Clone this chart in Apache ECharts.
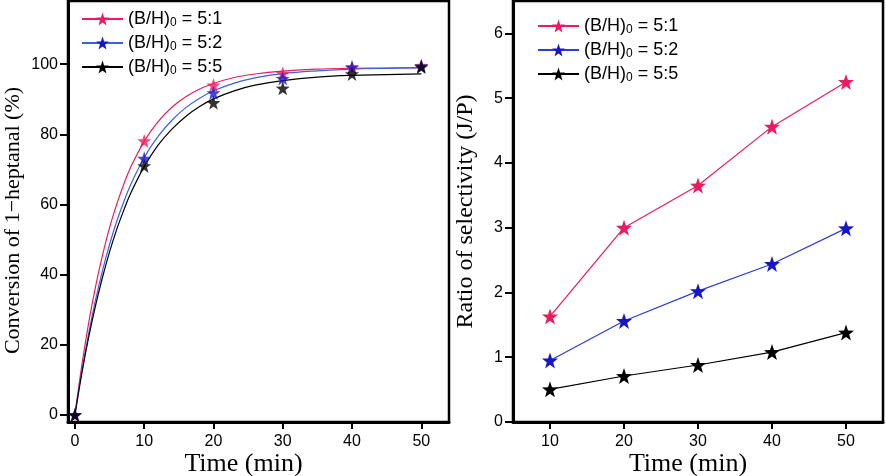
<!DOCTYPE html>
<html><head><meta charset="utf-8">
<script src="https://cdn.jsdelivr.net/npm/echarts@6/dist/echarts.min.js"></script>
<style>html,body{margin:0;padding:0;background:#fff}#c{width:886px;height:476px}</style>
</head><body><div id="c"></div>
<script>
// ---- data ----
const ratios = ['5:1', '5:2', '5:5'];
// left panel: measured conversion (%)
const convTime = [0, 10, 20, 30, 40, 50];
const conv51 = [0, 78.1, 94.0, 97.3, 99.0, 99.6];
const conv52 = [0, 73.1, 91.8, 95.9, 99.2, 99.4];
const conv55 = [0, 71.0, 89.0, 93.1, 97.2, 99.2];
// left panel: fitted curves
const fitTime = [0, 1, 2, 3, 4, 5, 6, 7, 8, 10, 12, 14, 16, 18, 20, 23, 26, 30, 35, 40, 45, 50];
const fit51 = [0, 14.2, 26.4, 36.8, 45.7, 53.4, 59.9, 65.5, 70.4, 78.0, 83.6, 87.7, 90.7, 92.9, 94.5, 96.2, 97.2, 98.0, 98.6, 98.8, 98.9, 99.0];
const fit52 = [0, 12.5, 23.4, 33.0, 41.3, 48.6, 55.0, 60.5, 65.4, 73.4, 79.4, 84.0, 87.6, 90.3, 92.4, 94.6, 96.1, 97.3, 98.1, 98.6, 98.8, 98.9];
const fit55 = [0, 11.9, 22.3, 31.4, 39.4, 46.5, 52.7, 58.1, 63.0, 70.8, 76.9, 81.5, 85.1, 87.9, 90.1, 92.4, 94.0, 95.3, 96.3, 96.8, 97.0, 97.2];
// right panel: ratio of selectivity (J/P)
const selTime = [10, 20, 30, 40, 50];
const sel51 = [1.63, 3.0, 3.65, 4.56, 5.25];
const sel52 = [0.95, 1.56, 2.02, 2.44, 2.99];
const sel55 = [0.505, 0.71, 0.88, 1.08, 1.38];
// tick labels
const convTicks = [0, 20, 40, 60, 80, 100];
const timeTicksL = [0, 10, 20, 30, 40, 50];
const selTicks = [0, 1, 2, 3, 4, 5, 6];
const timeTicksR = [10, 20, 30, 40, 50];

// ---- styles ----
const PINK = '#ec1b5f', BLUE = '#1616c6', BLUE_L = '#3a62e0', BLUE_R = '#2b3ed8', BLACK = '#000';
const STAR = 'path://M50,2 L61.76,35.82 L97.55,36.55 L69.02,58.18 L79.39,92.45 L50,72 L20.61,92.45 L30.98,58.18 L2.45,36.55 L38.24,35.82 Z';
const SANS = 'Liberation Sans', SERIF = 'Liberation Serif';

const pair = (xs, ys) => xs.map((x, i) => [x, ys[i]]);

function legendCfg(prefix, left, top, padL) {
  return {
    orient: 'vertical', left: left, top: top,
    itemWidth: 41, itemHeight: 16, itemGap: 5,
    data: ratios.map(r => prefix + r),
    formatter: name => '{p|(B/H)}{s|0}{a| = ' + name.slice(prefix.length) + '}',
    textStyle: {
      color: '#000', fontFamily: SANS,
      rich: {
        p: { fontSize: 18, lineHeight: 20, fontFamily: SANS, color: '#000', padding: [0, 0, 0, padL] },
        a: { fontSize: 18, lineHeight: 20, fontFamily: SANS, color: '#000' },
        s: { fontSize: 12, lineHeight: 8, fontFamily: SANS, color: '#000', verticalAlign: 'bottom' }
      }
    }
  };
}

function axisCommon() {
  return {
    axisLine: { show: true, onZero: false, lineStyle: { color: '#000', width: 3 } },
    splitLine: { show: false },
    nameLocation: 'middle'
  };
}

const option = {
  animation: false,
  backgroundColor: '#fff',
  grid: [
    { left: 68, right: 437, top: 1, bottom: 54, show: true, borderColor: '#000', borderWidth: 2.5, outerBoundsMode: 'none', containLabel: false },
    { left: 513, right: 3, top: 1, bottom: 54, show: true, borderColor: '#000', borderWidth: 2.5, outerBoundsMode: 'none', containLabel: false }
  ],
  legend: [legendCfg('L ', 76, 5, 0), legendCfg('R ', 532, 12, 0)],
  xAxis: [
    Object.assign(axisCommon(), {
      type: 'value', gridIndex: 0, min: -1, max: 54,
      axisTick: { show: true, length: 7, customValues: timeTicksL, lineStyle: { color: '#000', width: 2 } },
      axisLabel: { customValues: timeTicksL, margin: 12, fontSize: 16, fontFamily: SANS, color: '#000' },
      name: 'Time (min)', nameGap: 29, nameMoveOverlap: false,
      nameTextStyle: { fontFamily: SERIF, fontSize: 26, color: '#000', padding: [0, 30, 0, 0] }
    }),
    Object.assign(axisCommon(), {
      type: 'value', gridIndex: 1, min: 5, max: 55,
      axisTick: { show: true, length: 7, customValues: timeTicksR, lineStyle: { color: '#000', width: 2 } },
      axisLabel: { customValues: timeTicksR, margin: 12, fontSize: 16, fontFamily: SANS, color: '#000' },
      name: 'Time (min)', nameGap: 29, nameMoveOverlap: false,
      nameTextStyle: { fontFamily: SERIF, fontSize: 26, color: '#000', padding: [0, 20, 0, 0] }
    })
  ],
  yAxis: [
    Object.assign(axisCommon(), {
      type: 'value', gridIndex: 0, min: -2, max: 118,
      axisTick: { show: true, length: 8, customValues: convTicks, lineStyle: { color: '#000', width: 2 } },
      axisLabel: { customValues: convTicks, margin: 10, fontSize: 16, fontFamily: SANS, color: '#000' },
      name: 'Conversion of 1\u2212heptanal (%)', nameGap: 44, nameRotate: 90,
      nameTextStyle: { fontFamily: SERIF, fontSize: 22, color: '#000', padding: [0, 18, 0, 0] }
    }),
    Object.assign(axisCommon(), {
      type: 'value', gridIndex: 1, min: 0, max: 6.5,
      axisTick: { show: true, length: 8, customValues: selTicks, lineStyle: { color: '#000', width: 2 } },
      axisLabel: { customValues: selTicks, margin: 10, fontSize: 16, fontFamily: SANS, color: '#000' },
      name: 'Ratio of selectivity (J/P)', nameGap: 35, nameRotate: 90,
      nameTextStyle: { fontFamily: SERIF, fontSize: 24, color: '#000' }
    })
  ],
  series: [
    // left: fitted curves (legend entries)
    { name: 'L ' + ratios[0], type: 'line', xAxisIndex: 0, yAxisIndex: 0, data: pair(fitTime, fit51), smooth: 0.4,
      symbol: STAR, showSymbol: false, lineStyle: { color: PINK, width: 1.2 }, itemStyle: { color: PINK }, z: 2 },
    { name: 'L ' + ratios[1], type: 'line', xAxisIndex: 0, yAxisIndex: 0, data: pair(fitTime, fit52), smooth: 0.4,
      symbol: STAR, showSymbol: false, lineStyle: { color: BLUE_L, width: 1.2 }, itemStyle: { color: BLUE }, z: 2 },
    { name: 'L ' + ratios[2], type: 'line', xAxisIndex: 0, yAxisIndex: 0, data: pair(fitTime, fit55), smooth: 0.4,
      symbol: STAR, showSymbol: false, lineStyle: { color: BLACK, width: 1.2 }, itemStyle: { color: BLACK }, z: 2 },
    // left: measured points
    { name: 'Lm ' + ratios[0], type: 'scatter', xAxisIndex: 0, yAxisIndex: 0, data: pair(convTime, conv51),
      symbol: STAR, symbolSize: 14, itemStyle: { color: PINK }, z: 3 },
    { name: 'Lm ' + ratios[1], type: 'scatter', xAxisIndex: 0, yAxisIndex: 0, data: pair(convTime, conv52),
      symbol: STAR, symbolSize: 14, itemStyle: { color: BLUE }, z: 3 },
    { name: 'Lm ' + ratios[2], type: 'scatter', xAxisIndex: 0, yAxisIndex: 0, data: pair(convTime, conv55),
      symbol: STAR, symbolSize: 14, itemStyle: { color: BLACK }, z: 3 },
    // right panel
    { name: 'R ' + ratios[0], type: 'line', xAxisIndex: 1, yAxisIndex: 1, data: pair(selTime, sel51),
      symbol: STAR, symbolSize: 16, showSymbol: true, lineStyle: { color: PINK, width: 1.2 }, itemStyle: { color: PINK } },
    { name: 'R ' + ratios[1], type: 'line', xAxisIndex: 1, yAxisIndex: 1, data: pair(selTime, sel52),
      symbol: STAR, symbolSize: 16, showSymbol: true, lineStyle: { color: BLUE_R, width: 1.2 }, itemStyle: { color: BLUE } },
    { name: 'R ' + ratios[2], type: 'line', xAxisIndex: 1, yAxisIndex: 1, data: pair(selTime, sel55),
      symbol: STAR, symbolSize: 16, showSymbol: true, lineStyle: { color: BLACK, width: 1.2 }, itemStyle: { color: BLACK } }
  ]
};

const chart = echarts.init(document.getElementById('c'), null, { renderer: 'canvas' });
chart.setOption(option);
</script>
</body></html>
